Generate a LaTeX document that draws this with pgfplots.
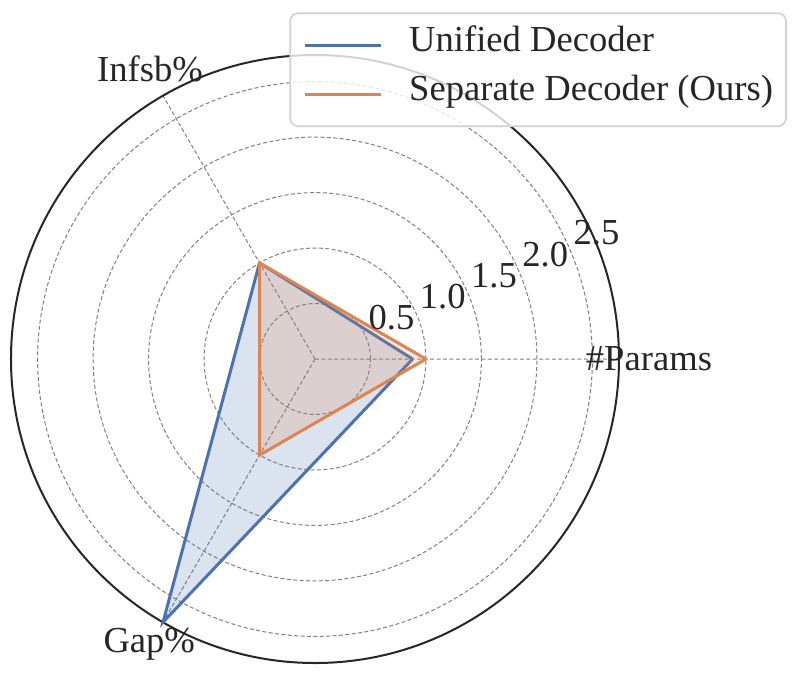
\documentclass[border=0pt]{standalone}
\usepackage{fontspec}
\setmainfont{Liberation Serif}
\usepackage{pgfplots}
\pgfplotsset{compat=1.18}
\usepgfplotslibrary{polar}
\definecolor{cblue}{HTML}{4C72B0}
\definecolor{corange}{HTML}{DD8452}
\definecolor{txt}{HTML}{262626}
\begin{document}
\begin{tikzpicture}
\useasboundingbox (0,0) rectangle (399pt,338.5pt);
\begin{polaraxis}[
  at={(157.5pt,159pt)}, anchor=origin,
  width=304pt, height=304pt, scale only axis,
  xmin=0, xmax=360, ymin=0, ymax=2.74,
  xtick={0,120,240}, xticklabels={},
  ytick={0.5,1,1.5,2,2.5}, yticklabels={},
  grid=major,
  major grid style={gray, line width=0.5pt, dash pattern=on 2pt off 1.2pt},
  x axis line style={txt, line width=1pt},
  y axis line style={draw=none},
  major tick length=0pt,
  clip=false,
  font=\fontsize{18.3}{22}\selectfont,
  legend image code/.code={\draw[#1, fill=none] (0pt,0pt) -- (38pt,0pt);},
  legend cell align=left,
  legend style={
    at={(axis description cs:1.276,1.070)}, anchor=north east,
    draw=black!18, line width=0.8pt, rounded corners=4pt,
    fill=white, fill opacity=0.8, text opacity=1, draw opacity=1,
    inner xsep=6.5pt, inner ysep=6pt,
    row sep=4.5pt,
    nodes={inner sep=0pt, text height=13pt, text depth=7pt, anchor=west},
    /tikz/every odd column/.append style={column sep=13.5pt},
    text=txt, font=\fontsize{18.3}{22}\selectfont,
  },
]
\addplot[draw=cblue, line width=1.5pt, line join=miter, fill=cblue, fill opacity=0.2]
  coordinates {(0,0.88) (120,1.0) (240,2.74) (360,0.88)};
\addlegendentry{Unified Decoder}
\addplot[draw=corange, line width=1.5pt, line join=miter, fill=corange, fill opacity=0.2]
  coordinates {(0,1.0) (120,1.0) (240,1.0) (360,1.0)};
\addlegendentry{Separate Decoder (Ours)}
\pgfplotsinvokeforeach{0.5,1.0,1.5,2.0,2.5}{
  \node[anchor=base west, xshift=1pt, yshift=4pt, text=txt, inner sep=0pt] at (axis cs:22.5,#1) {#1};
}
\node[text=txt, inner sep=0pt] at (axis cs:0,3.01) {\#Params};
\node[text=txt, inner sep=0pt] at (axis cs:119.6,3.01) {Infsb\%};
\node[text=txt, inner sep=0pt] at (axis cs:239.8,2.97) {Gap\%};
\end{polaraxis}
\end{tikzpicture}
\end{document}
